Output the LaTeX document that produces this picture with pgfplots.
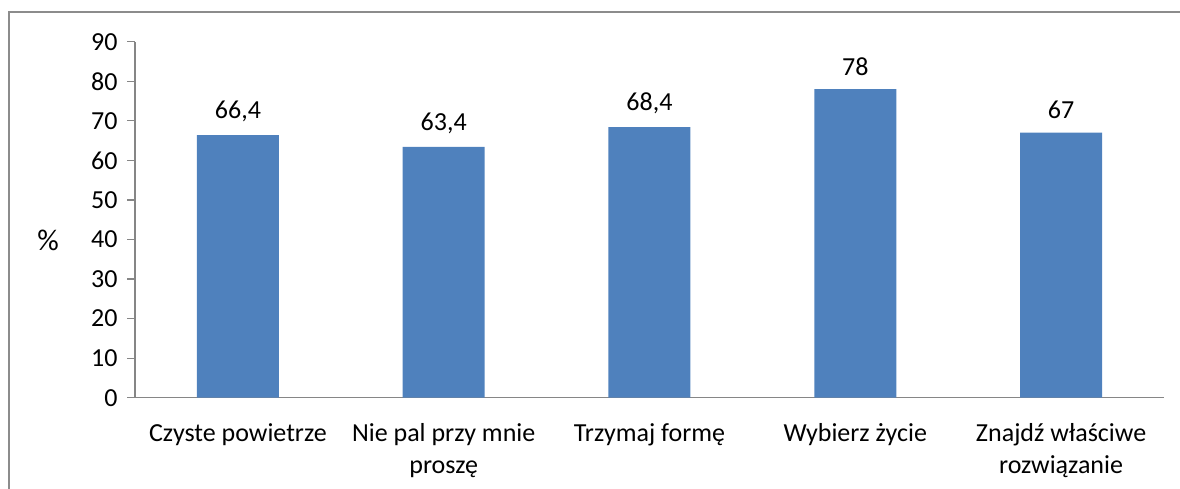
\documentclass[border=0pt]{standalone}
\usepackage{pgfplots}
\pgfplotsset{compat=1.18}
\usepackage{fontspec}
\setmainfont{Carlito}
\definecolor{barblue}{HTML}{4F81BD}
\definecolor{axgray}{HTML}{868686}
\definecolor{framegray}{HTML}{8C8C8C}
\begin{document}
\begin{tikzpicture}
\clip (0,0) rectangle (1180pt,488pt);
\useasboundingbox (0,0) rectangle (1180pt,488pt);
\draw[framegray, line width=1.5pt] (9pt,-10pt) -- (9pt,476pt) -- (1200pt,476pt);
\begin{axis}[
  at={(135pt,90.3pt)}, anchor=south west,
  scale only axis, width=1029pt, height=356pt,
  xmin=-0.5, xmax=4.5, ymin=0, ymax=90,
  axis x line*=bottom, axis y line*=left,
  axis line style={axgray, line width=1.2pt, -},
  ytick={0,10,...,90},
  xtick={0,1,2,3,4},
  xticklabels={Czyste powietrze, {Nie pal przy mnie\\proszę}, Trzymaj formę, Wybierz życie, {Znajdź właściwe\\rozwiązanie}},
  major x tick style={draw=none},
  extra x ticks={-0.5,0.5,1.5,2.5,3.5,4.5},
  extra x tick labels={},
  extra x tick style={tick style={axgray, line width=1.2pt}, major tick length=8pt, tick align=outside},
  y tick style={axgray, line width=1.2pt},
  major tick length=8pt, tick align=outside,
  tick label style={font=\fontsize{26}{32}\selectfont, text=black},
  xticklabel style={align=center, yshift=-14pt},
  yticklabel style={xshift=-6pt},
  /pgf/number format/assume math mode=true,
  /pgf/number format/use comma,
  ylabel={\%},
  every axis y label/.style={at={(rel axis cs:0,0.443)}, anchor=center, xshift=-87pt, rotate=0, font=\fontsize{30}{36}\selectfont},
  nodes near coords,
  every node near coord/.append style={font=\fontsize{26}{32}\selectfont, text=black, yshift=10pt, /pgf/number format/assume math mode=true},
]
\addplot[ybar, bar width=82pt, fill=barblue, draw=none] coordinates {(0,66.4) (1,63.4) (2,68.4) (3,78) (4,67)};
\end{axis}
\end{tikzpicture}
\end{document}
